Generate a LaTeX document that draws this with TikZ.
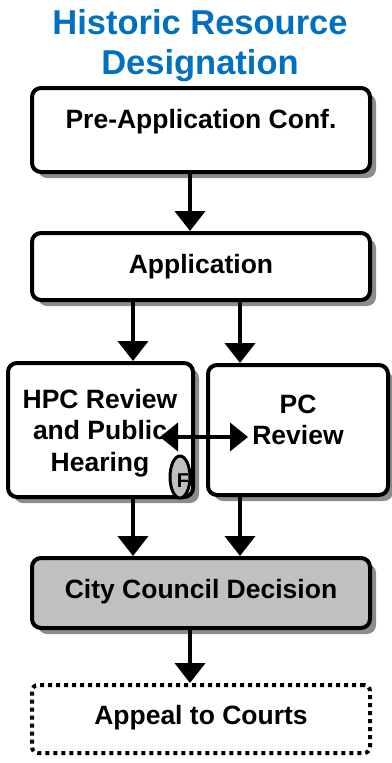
\documentclass[tikz,border=0pt]{standalone}
\usepackage{fontspec}
\setmainfont{Liberation Sans}
\usetikzlibrary{arrows.meta,shapes.geometric}
\definecolor{titleblue}{RGB}{0,112,192}
\definecolor{boxgray}{RGB}{192,192,192}
\definecolor{shadowgray}{RGB}{140,140,140}
\tikzset{
  box/.style={draw=black, line width=4pt, rounded corners=9pt, fill=white, inner sep=0pt},
  txt/.style={font=\bfseries\fontsize{26.5}{31.5}\selectfont, align=center, inner sep=0pt},
  flow/.style={line width=4pt, -{Triangle[width=30pt,length=20pt]}},
  dflow/.style={line width=4pt, {Triangle[width=28pt,length=18pt]}-{Triangle[width=28pt,length=18pt]}},
}
\begin{document}
\begin{tikzpicture}[x=1pt,y=-1pt]
\useasboundingbox (0,0) rectangle (391,763);
% title
\node[font=\bfseries\fontsize{34.5}{40}\selectfont, text=titleblue, align=center, inner sep=0pt] (title) at (200,46) {Historic Resource\\Designation};
% shadows
\fill[shadowgray, rounded corners=9pt] (38,94) rectangle (376,178);
\fill[shadowgray, rounded corners=9pt] (38,239) rectangle (376,306);
\fill[shadowgray, rounded corners=9pt] (14,369) rectangle (199,503);
\fill[shadowgray, rounded corners=9pt] (214,371) rectangle (393,501);
\fill[shadowgray, rounded corners=9pt] (38,564) rectangle (376,634);
% boxes
\node[box, minimum width=338pt, minimum height=84pt] (pre) at (201,130) {};
\node[txt] (pret) at (201,122) {Pre-Application Conf.};
\node[box, minimum width=338pt, minimum height=67pt] (app) at (201,266.5) {};
\node[txt] (appt) at (201,267) {Application};
\node[box, minimum width=185pt, minimum height=134pt] (hpc) at (100.5,430) {};
\node[txt] (hpct) at (100,433) {HPC Review\\and Public\\Hearing};
\node[box, minimum width=180pt, minimum height=130pt] (pc) at (298,430) {};
\node[txt] (pct) at (298,420) {PC\\Review};
\node[box, fill=boxgray, minimum width=338pt, minimum height=70pt] (cc) at (201,593) {};
\node[txt] (cct) at (201,592) {City Council Decision};
\node[draw=black, line width=4pt, dash pattern=on 4pt off 4pt, rounded corners=6pt, minimum width=338pt, minimum height=68pt, inner sep=0pt] (ap) at (201,719) {};
\node[txt] (apt) at (201,718) {Appeal to Courts};
% F marker
\node[ellipse, draw=black, line width=3pt, fill=boxgray, minimum width=20pt, minimum height=42pt, inner sep=0pt] (f) at (180,477) {};
\node[font=\bfseries\fontsize{20}{20}\selectfont, inner sep=0pt] (ft) at (183,481) {F};
% connectors
\draw[flow] (pre.south -| 190,0) -- (app.north -| 190,0);
\draw[flow] (app.south -| 133,0) -- (hpc.north -| 133,0);
\draw[flow] (app.south -| 240,0) -- (pc.north -| 240,0);
\draw[flow] (hpc.south -| 133,0) -- (cc.north -| 133,0);
\draw[flow] (pc.south -| 240,0) -- (cc.north -| 240,0);
\draw[flow] (cc.south -| 190,0) -- (ap.north -| 190,0);
\draw[dflow] (160,437) coordinate (dl) -- (248,437) coordinate (dr);
\end{tikzpicture}
\end{document}
